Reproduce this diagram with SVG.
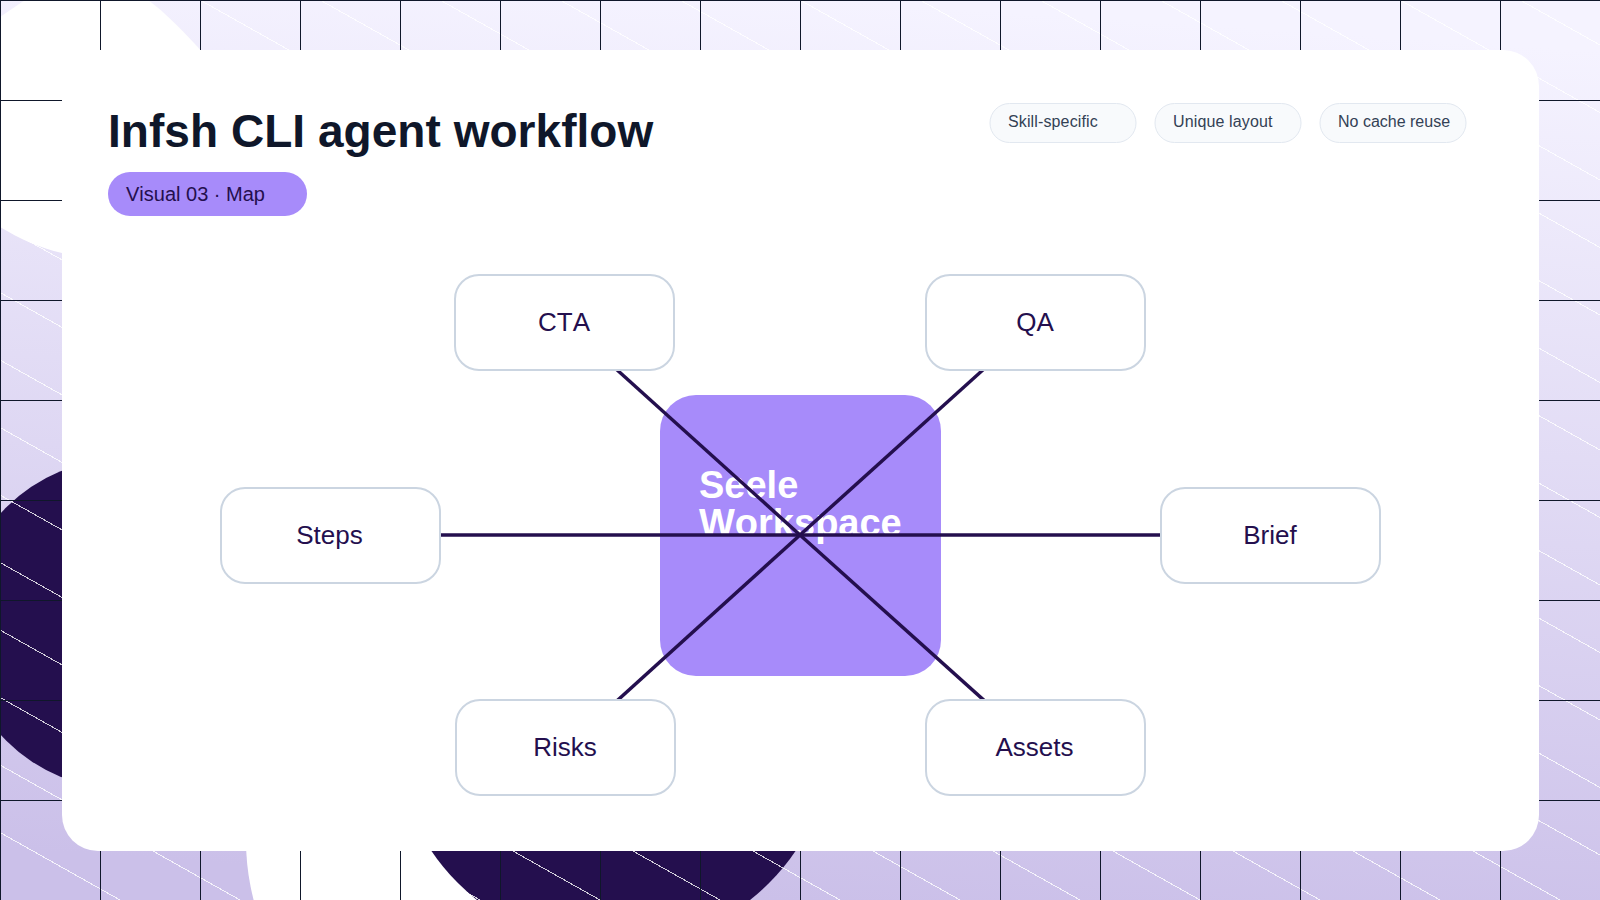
<svg xmlns="http://www.w3.org/2000/svg" width="1600" height="900" viewBox="0 0 1600 900">
<defs>
<linearGradient id="bg" gradientUnits="userSpaceOnUse" x1="830" y1="0" x2="770" y2="900"><stop offset="0" stop-color="#f5f3ff"/><stop offset="1" stop-color="#cbc0e9"/></linearGradient>
<pattern id="grid" patternUnits="userSpaceOnUse" width="100" height="100"><path d="M0.5 0V100M0 0.5H100" fill="none" stroke="#0f172a" stroke-width="1"/></pattern>
</defs>
<style>
text{font-family:"Liberation Sans",Arial,sans-serif;font-kerning:none;font-variant-ligatures:none}
.node rect{fill:#fff;stroke:#cbd5e1;stroke-width:2}
.node text{font-size:26px;fill:#240f4e;text-anchor:middle}
.chip rect{fill:#f8fafc;stroke:#e2e8f0;stroke-width:1}
.chip text{font-size:16px;fill:#334155}
#connectors line{stroke:#240f4e;stroke-width:3.5}
#diagonals{fill:none;stroke:#fff;stroke-width:1;stroke-opacity:.8;shape-rendering:crispEdges}
</style>
<rect id="bg-fill" width="1600" height="900" fill="url(#bg)"/>
<path d="M0 17L25 0H148C165 12 185 33 205 55V100L100 257L62 253C40 248 20 239 0 227Z" fill="#fff"/>
<circle cx="486" cy="840" r="240" fill="#fff"/>
<circle cx="123" cy="624" r="165" fill="#240f4e"/>
<circle cx="613.5" cy="727.5" r="220" fill="#240f4e"/>
<path id="diagonals" d="M0 -922.5l1600 900M0 -855l1600 900M0 -787.5l1600 900M0 -720l1600 900M0 -652.5l1600 900M0 -585l1600 900M0 -517.5l1600 900M0 -450l1600 900M0 -382.5l1600 900M0 -315l1600 900M0 -247.5l1600 900M0 -180l1600 900M0 -112.5l1600 900M0 -45l1600 900M0 22.5l1600 900M0 90l1600 900M0 157.5l1600 900M0 225l1600 900M0 292.5l1600 900M0 360l1600 900M0 427.5l1600 900M0 495l1600 900M0 562.5l1600 900M0 630l1600 900M0 697.5l1600 900M0 765l1600 900M0 832.5l1600 900"/>
<rect width="1600" height="900" fill="url(#grid)"/>
<rect id="card" x="62" y="50" width="1477" height="801" rx="36" fill="#fff"/>
<text x="108" y="147" font-size="46" font-weight="700" fill="#0f172a" letter-spacing=".04">Infsh CLI agent workflow</text>
<g id="pill"><rect x="108" y="172" width="199" height="44" rx="22" fill="#a78bfa"/><text x="126" y="201" font-size="20" fill="#240f4e">Visual 03 · Map</text></g>
<g id="chip-1" class="chip"><rect x="990" y="103.5" width="146" height="39" rx="19.5"/><text x="1008" y="127" letter-spacing=".13">Skill-specific</text></g>
<g id="chip-2" class="chip"><rect x="1155" y="103.5" width="146" height="39" rx="19.5"/><text x="1173" y="127" letter-spacing=".13">Unique layout</text></g>
<g id="chip-3" class="chip"><rect x="1320" y="103.5" width="146" height="39" rx="19.5"/><text x="1338" y="127">No cache reuse</text></g>
<g id="node-center"><rect x="660" y="395" width="281" height="281" rx="36" fill="#a78bfa"/><text x="699" y="498" font-size="38" font-weight="700" fill="#fff">Seele</text><text x="699" y="536" font-size="38" font-weight="700" fill="#fff">Workspace</text></g>
<g id="connectors">
<line x1="800" y1="535" x2="564" y2="322"/>
<line x1="800" y1="535" x2="1036" y2="322"/>
<line x1="800" y1="535" x2="330" y2="535"/>
<line x1="800" y1="535" x2="1270" y2="535"/>
<line x1="800" y1="535" x2="566" y2="747"/>
<line x1="800" y1="535" x2="1036" y2="747"/>
</g>
<g id="node-cta" class="node"><rect x="455" y="275" width="219" height="95" rx="24"/><text x="564" y="331">CTA</text></g>
<g id="node-qa" class="node"><rect x="926" y="275" width="219" height="95" rx="24"/><text x="1035" y="331">QA</text></g>
<g id="node-steps" class="node"><rect x="221" y="488" width="219" height="95" rx="24"/><text x="329.5" y="544">Steps</text></g>
<g id="node-brief" class="node"><rect x="1161" y="488" width="219" height="95" rx="24"/><text x="1270" y="544">Brief</text></g>
<g id="node-risks" class="node"><rect x="456" y="700" width="219" height="95" rx="24"/><text x="565" y="756">Risks</text></g>
<g id="node-assets" class="node"><rect x="926" y="700" width="219" height="95" rx="24"/><text x="1034.5" y="756">Assets</text></g>
</svg>
